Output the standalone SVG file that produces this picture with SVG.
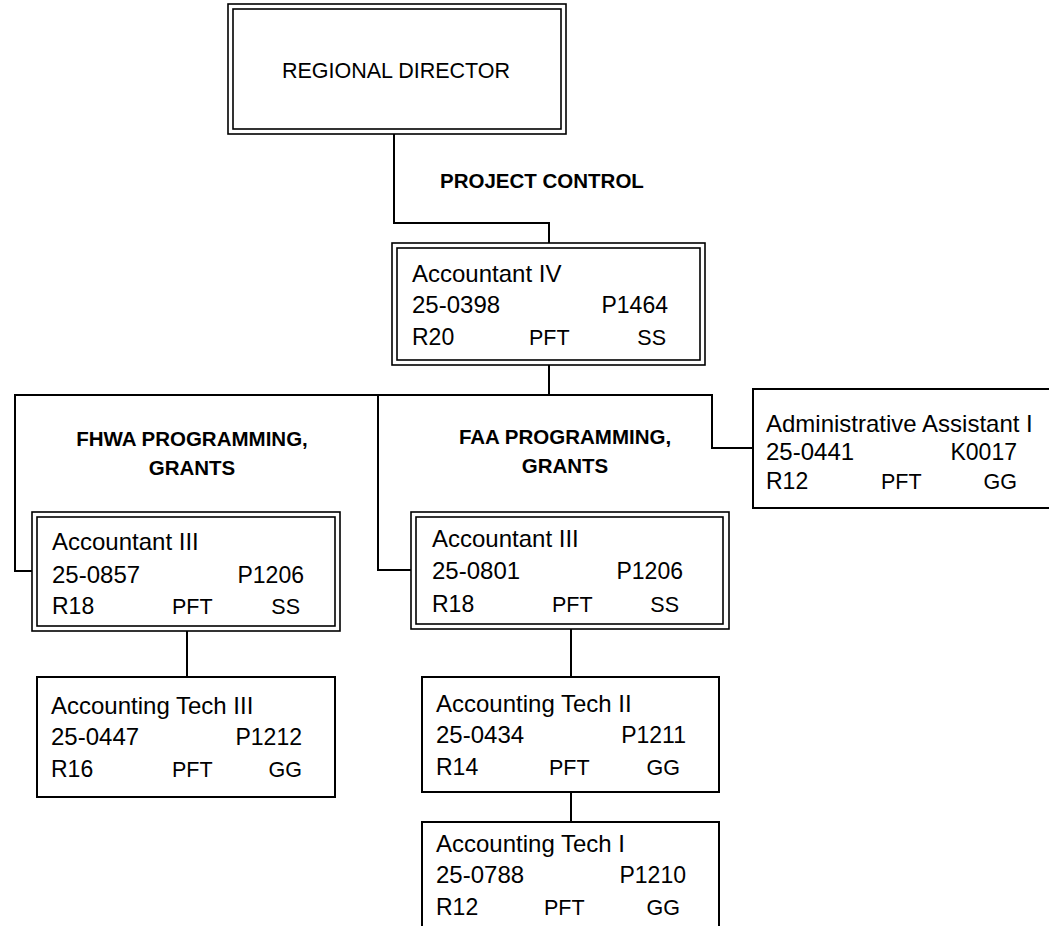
<svg xmlns="http://www.w3.org/2000/svg" width="1049" height="926" viewBox="0 0 1049 926">
<style>
.bg{fill:#fff}
.box{fill:#fff;stroke:#000;stroke-width:2}
.dbl{fill:none;stroke:#000;stroke-width:1.6}
.conn{fill:none;stroke:#000;stroke-width:2}
text{font-family:"Liberation Sans",Arial,sans-serif;fill:#000}
.t{font-size:24px}
.c{font-size:23px}
.u{font-size:21.5px}
.h{font-size:20.5px;font-weight:bold;text-anchor:middle}
.e{text-anchor:end}
.m{text-anchor:middle}
</style>
<rect class="bg" x="0" y="0" width="1049" height="926"/>
<g id="connectors">
<path class="conn" d="M394,134 V223 H549 V243"/>
<path class="conn" d="M549,365 V395"/>
<path class="conn" d="M15,395 H712"/>
<path class="conn" d="M15,394 V571 H32"/>
<path class="conn" d="M378,395 V570 H411"/>
<path class="conn" d="M712,394 V448 H753"/>
<path class="conn" d="M187,631 V677"/>
<path class="conn" d="M571,629 V677"/>
<path class="conn" d="M571,792 V822"/>
</g>
<g id="regional-director">
<rect class="dbl" x="228" y="4" width="338" height="130"/>
<rect class="dbl" x="233" y="9" width="328" height="120"/>
<text class="t m" x="396" y="78" style="font-size:21.5px">REGIONAL DIRECTOR</text>
</g>
<g id="label-project-control">
<text class="h" x="440" y="188" style="text-anchor:start">PROJECT CONTROL</text>
</g>
<g id="accountant-iv">
<rect class="dbl" x="392" y="243" width="313" height="122"/>
<rect class="dbl" x="397" y="248" width="303" height="112"/>
<text class="t" x="412" y="282">Accountant IV</text>
<text class="t" x="412" y="313">25-0398</text>
<text class="c e" x="668" y="313">P1464</text>
<text class="c" x="412" y="345">R20</text>
<text class="u" x="529" y="345">PFT</text>
<text class="u e" x="666" y="345">SS</text>
</g>
<g id="label-fhwa">
<text class="h" x="192" y="446">FHWA PROGRAMMING,</text>
<text class="h" x="192" y="475">GRANTS</text>
</g>
<g id="label-faa">
<text class="h" x="565" y="444">FAA PROGRAMMING,</text>
<text class="h" x="565" y="473">GRANTS</text>
</g>
<g id="admin-assistant-i">
<rect class="box" x="753" y="389" width="320" height="119"/>
<text class="t" x="766" y="432">Administrative Assistant I</text>
<text class="t" x="766" y="460">25-0441</text>
<text class="c e" x="1017" y="460">K0017</text>
<text class="c" x="766" y="489">R12</text>
<text class="u" x="881" y="489">PFT</text>
<text class="u e" x="1017" y="489">GG</text>
</g>
<g id="accountant-iii-fhwa">
<rect class="dbl" x="32" y="512" width="308" height="119"/>
<rect class="dbl" x="37" y="517" width="298" height="109"/>
<text class="t" x="52" y="550">Accountant III</text>
<text class="t" x="52" y="583">25-0857</text>
<text class="c e" x="304" y="583">P1206</text>
<text class="c" x="52" y="614">R18</text>
<text class="u" x="172" y="614">PFT</text>
<text class="u e" x="300" y="614">SS</text>
</g>
<g id="accountant-iii-faa">
<rect class="dbl" x="411" y="512" width="318" height="117"/>
<rect class="dbl" x="416" y="517" width="307" height="107"/>
<text class="t" x="432" y="547">Accountant III</text>
<text class="t" x="432" y="579">25-0801</text>
<text class="c e" x="683" y="579">P1206</text>
<text class="c" x="432" y="612">R18</text>
<text class="u" x="552" y="612">PFT</text>
<text class="u e" x="679" y="612">SS</text>
</g>
<g id="accounting-tech-iii">
<rect class="box" x="37" y="677" width="298" height="120"/>
<text class="t" x="51" y="714">Accounting Tech III</text>
<text class="t" x="51" y="745">25-0447</text>
<text class="c e" x="302" y="745">P1212</text>
<text class="c" x="51" y="777">R16</text>
<text class="u" x="172" y="777">PFT</text>
<text class="u e" x="302" y="777">GG</text>
</g>
<g id="accounting-tech-ii">
<rect class="box" x="422" y="677" width="297" height="115"/>
<text class="t" x="436" y="712">Accounting Tech II</text>
<text class="t" x="436" y="743">25-0434</text>
<text class="c e" x="686" y="743">P1211</text>
<text class="c" x="436" y="775">R14</text>
<text class="u" x="549" y="775">PFT</text>
<text class="u e" x="680" y="775">GG</text>
</g>
<g id="accounting-tech-i">
<rect class="box" x="422" y="822" width="297" height="120"/>
<text class="t" x="436" y="852">Accounting Tech I</text>
<text class="t" x="436" y="883">25-0788</text>
<text class="c e" x="686" y="883">P1210</text>
<text class="c" x="436" y="915">R12</text>
<text class="u" x="544" y="915">PFT</text>
<text class="u e" x="680" y="915">GG</text>
</g>
</svg>
